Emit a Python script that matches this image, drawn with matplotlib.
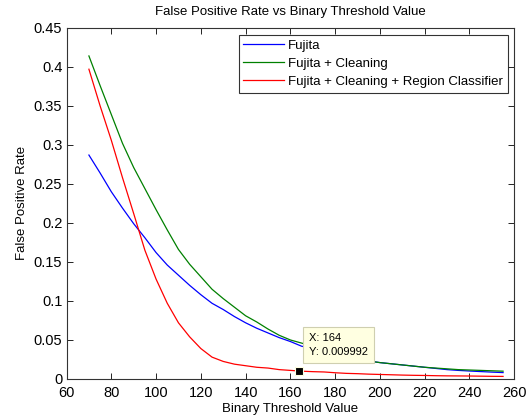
import matplotlib
matplotlib.use('Agg')
import matplotlib.pyplot as plt

plt.rcParams['font.family'] = ['Liberation Sans', 'DejaVu Sans']
plt.rcParams['font.size'] = 9.5

# threshold values and false positive rates
thresholds = [70, 75, 80, 85, 90, 95, 100, 105, 110, 115, 120, 125, 130, 135,
              140, 145, 150, 155, 160, 165, 170, 175, 180, 185, 190, 195, 200,
              205, 210, 215, 220, 225, 230, 235, 240, 245, 250, 255]
fpr_fujita = [0.287, 0.264, 0.240, 0.219, 0.199, 0.181, 0.162, 0.146, 0.133,
              0.120, 0.108, 0.097, 0.089, 0.080, 0.072, 0.065, 0.059, 0.053,
              0.048, 0.042, 0.039, 0.034, 0.030, 0.027, 0.025, 0.023, 0.021,
              0.0195, 0.018, 0.0165, 0.015, 0.0135, 0.012, 0.011, 0.0102,
              0.0095, 0.0088, 0.0082]
fpr_cleaning = [0.414, 0.376, 0.339, 0.302, 0.271, 0.244, 0.217, 0.191, 0.166,
                0.147, 0.131, 0.115, 0.103, 0.092, 0.081, 0.073, 0.064, 0.056,
                0.050, 0.046, 0.042, 0.037, 0.032, 0.028, 0.025, 0.023, 0.021,
                0.0195, 0.018, 0.0165, 0.015, 0.014, 0.013, 0.012, 0.0115,
                0.011, 0.0105, 0.0100]
fpr_region = [0.397, 0.350, 0.306, 0.258, 0.212, 0.165, 0.128, 0.097, 0.072,
              0.054, 0.039, 0.028, 0.0225, 0.019, 0.017, 0.015, 0.014, 0.012,
              0.011, 0.010, 0.0094, 0.0090, 0.0080, 0.0072, 0.0068, 0.0062,
              0.0058, 0.0054, 0.0050, 0.0047, 0.0045, 0.0042, 0.0040, 0.0039,
              0.0038, 0.0036, 0.0034, 0.0033]

series_labels = ['Fujita', 'Fujita + Cleaning',
                 'Fujita + Cleaning + Region Classifier']
series_colors = ['#0000ff', '#008000', '#ff0000']

tip_x = 164
tip_y = 0.009992

xticks = list(range(60, 261, 20))
yticks = [0, 0.05, 0.1, 0.15, 0.2, 0.25, 0.3, 0.35, 0.4, 0.45]
ytick_labels = ['0', '0.05', '0.1', '0.15', '0.2', '0.25', '0.3',
                '0.35', '0.4', '0.45']

fig = plt.figure(figsize=(5.28, 4.19), dpi=100)
ax = fig.add_axes([0.126, 0.0955, 0.848, 0.838])

for ys, lab, col in zip([fpr_fujita, fpr_cleaning, fpr_region],
                        series_labels, series_colors):
    ax.plot(thresholds, ys, color=col, lw=0.9, label=lab)

ax.set_xlim(60, 260)
ax.set_ylim(0, 0.45)
ax.set_xticks(xticks)
ax.set_yticks(yticks)
ax.set_yticklabels(ytick_labels)
ax.tick_params(direction='in', top=True, right=True, length=4, width=0.6,
               labelsize=10.5, pad=3)
ax.tick_params(axis='x', pad=5)
for sp in ax.spines.values():
    sp.set_linewidth(0.8)
    sp.set_color('#333333')

ax.set_title('False Positive Rate vs Binary Threshold Value', fontsize=9.5, pad=9)
ax.set_xlabel('Binary Threshold Value', fontsize=9.5, labelpad=2)
ax.set_ylabel('False Positive Rate', fontsize=9.5, labelpad=4)

leg = ax.legend(loc='upper right', fontsize=9.5, frameon=True, fancybox=False,
                edgecolor='black', borderpad=0.35, handlelength=3.1,
                handletextpad=0.3, labelspacing=0.45, borderaxespad=0,
                bbox_to_anchor=(0.985, 0.98))
leg.get_frame().set_linewidth(0.8)

# datatip
ax.plot([tip_x], [tip_y], marker='s', ms=6, color='black',
        markeredgecolor='#ffffe0', mew=0.8, zorder=5)
ax.annotate(f'X: {tip_x}\nY: {tip_y}', xy=(tip_x, tip_y),
            xytext=(7, 10), textcoords='offset points',
            fontsize=8, va='bottom', ha='left', linespacing=1.5,
            bbox=dict(boxstyle='square,pad=0.55', fc='#ffffe1',
                      ec='#cfcfb0', lw=0.8), zorder=6)

fig.savefig('out.png', dpi=100)
